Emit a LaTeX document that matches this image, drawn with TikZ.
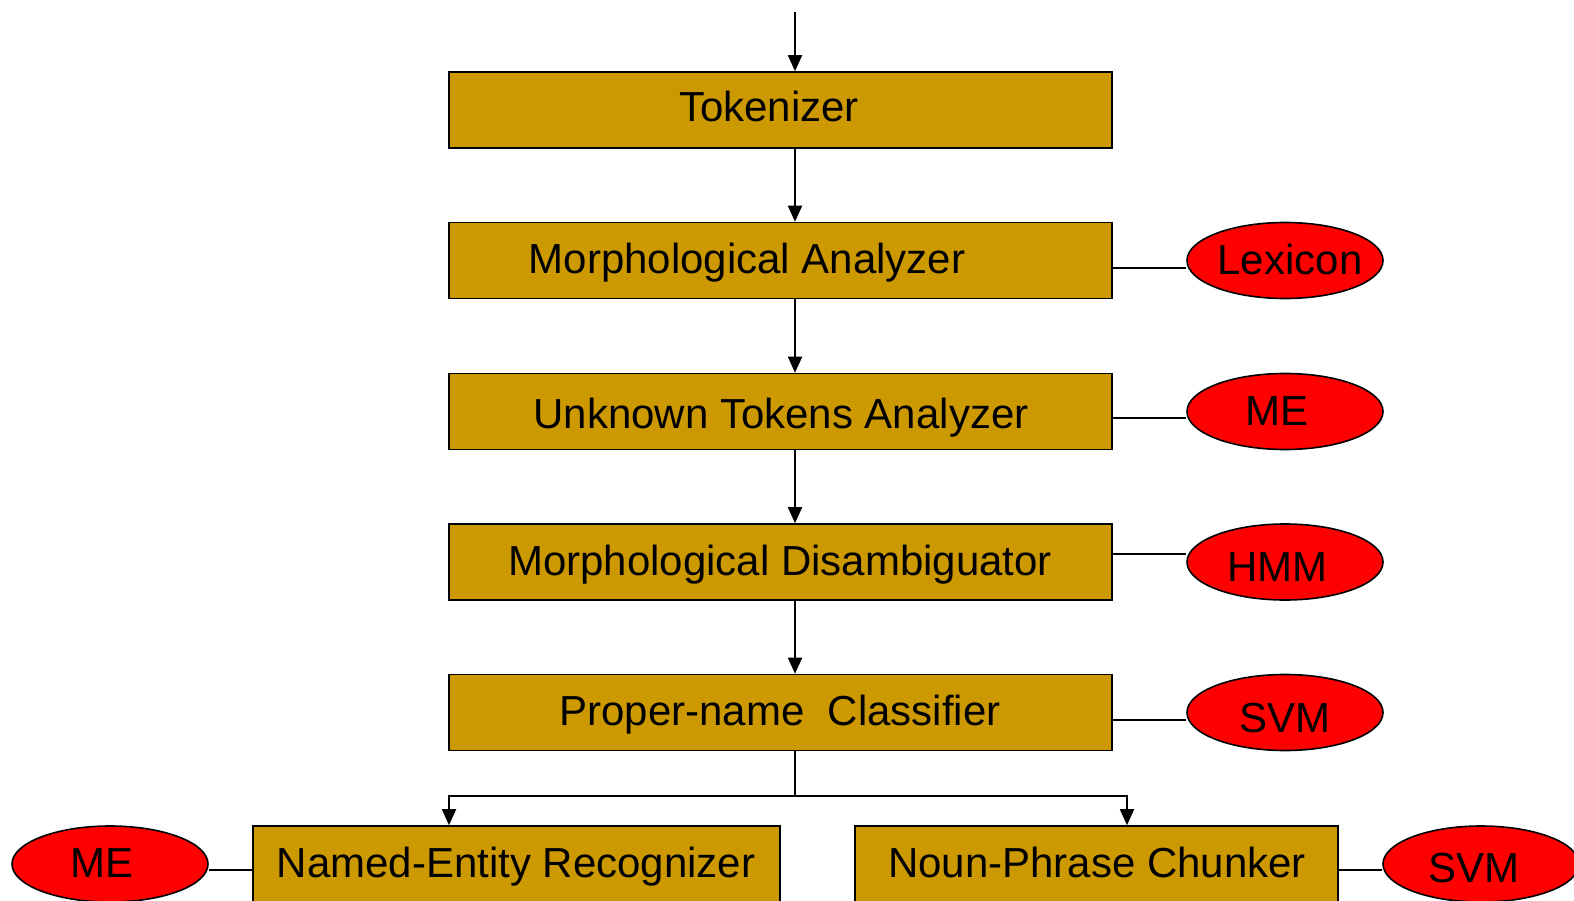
\documentclass[tikz,border=0pt]{standalone}
\usepackage{fontspec}
\setmainfont{Liberation Sans}
\usetikzlibrary{arrows.meta,shapes.geometric}
\definecolor{boxfill}{HTML}{CC9900}
\definecolor{ovalfill}{HTML}{FF0000}
\tikzset{
  stage/.style={draw=black, line width=1.6pt, fill=boxfill, minimum height=76pt, inner sep=0pt},
  model/.style={ellipse, draw=black, line width=1.6pt, fill=ovalfill, minimum width=196pt, minimum height=76pt, inner sep=0pt},
  txt/.style={anchor=base, inner sep=0pt, font=\fontsize{42}{50}\selectfont},
  flow/.style={line width=1.8pt, -{Triangle[width=14pt,length=16pt]}},
  link/.style={line width=1.8pt}
}
\begin{document}
\begin{tikzpicture}[x=1pt,y=-1pt]
\useasboundingbox (0,0) rectangle (1574,901);
\clip (0,0) rectangle (1574,901);

% processing stages
\node[stage, minimum width=663pt] (tok) at (780.5,110) {};
\node[stage, minimum width=663pt] (mor) at (780.5,260.5) {};
\node[stage, minimum width=663pt] (unk) at (780.5,411.5) {};
\node[stage, minimum width=663pt] (dis) at (780.5,562) {};
\node[stage, minimum width=663pt] (pro) at (780.5,712.5) {};
\node[stage, minimum width=527pt] (ner) at (516.5,864) {};
\node[stage, minimum width=483pt] (npc) at (1096.5,864) {};

% stage names
\node[txt] (tok-t) at (769,122) {Tokenizer};
\node[txt] (mor-t) at (747,274) {Morphological Analyzer};
\node[txt] (unk-t) at (781,428) {Unknown Tokens Analyzer};
\node[txt] (dis-t) at (780,575) {Morphological Disambiguator};
\node[txt] (pro-t) at (780,725) {Proper-name\ \ Classifier};
\node[txt] (ner-t) at (516,877) {Named-Entity Recognizer};
\node[txt] (npc-t) at (1097,877) {Noun-Phrase Chunker};

% resources and models
\node[model] (lex) at (1285,260.5) {};
\node[model] (me1) at (1285,411.5) {};
\node[model] (hmm) at (1285,562) {};
\node[model] (svm1) at (1285,712.5) {};
\node[model] (me2) at (110,864) {};
\node[model] (svm2) at (1481,864) {};

\node[txt] (lex-t) at (1290,275) {Lexicon};
\node[txt] (me1-t) at (1277,425) {ME};
\node[txt] (hmm-t) at (1277.5,581) {HMM};
\node[txt] (svm1-t) at (1285,732) {SVM};
\node[txt] (me2-t) at (102,877) {ME};
\node[txt] (svm2-t) at (1474,882) {SVM};

% pipeline flow
\coordinate (in) at (795,12);
\coordinate (split) at (795,796);
\draw[flow] (in) -- (in |- tok.north);
\draw[flow] (in |- tok.south) -- (in |- mor.north);
\draw[flow] (in |- mor.south) -- (in |- unk.north);
\draw[flow] (in |- unk.south) -- (in |- dis.north);
\draw[flow] (in |- dis.south) -- (in |- pro.north);
\draw[link] (in |- pro.south) -- (split);
\coordinate (nerin) at (449,796);
\coordinate (npcin) at (1127,796);
\draw[flow] (split) -- (nerin) -- (nerin |- ner.north);
\draw[flow] (split) -- (npcin) -- (npcin |- npc.north);

% attachments
\draw[link] ([yshift=-7.5pt]mor.east) -- ([yshift=-7.5pt]lex.west);
\draw[link] ([yshift=-6.5pt]unk.east) -- ([yshift=-6.5pt]me1.west);
\draw[link] ([yshift=8pt]dis.east) -- ([yshift=8pt]hmm.west);
\draw[link] ([yshift=-7.5pt]pro.east) -- ([yshift=-7.5pt]svm1.west);
\draw[link] ([yshift=-6pt]me2.east) -- ([yshift=-6pt]ner.west);
\draw[link] ([yshift=-6pt]npc.east) -- ([yshift=-6pt]svm2.west);
\end{tikzpicture}
\end{document}
